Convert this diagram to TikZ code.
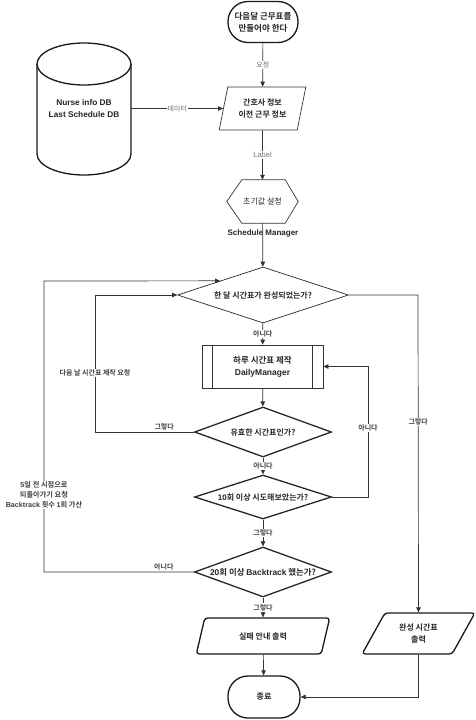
\documentclass[tikz,border=0pt]{standalone}
\usepackage{fontspec}
\setmainfont{Noto Sans CJK KR}[BoldFont={Noto Sans CJK KR Bold}]
\newfontfamily\lat{Liberation Sans}
\usetikzlibrary{shapes.geometric,arrows.meta}
\begin{document}
\begin{tikzpicture}[x=1pt,y=-1pt,
  ln/.style={draw=black!80, line width=0.7pt},
  arr/.style={ln, -{Triangle[length=5pt,width=4.5pt]}},
  txt/.style={font=\fontsize{8}{12}\selectfont\bfseries, align=center, text=black!85, inner sep=0pt},
  term/.style={rectangle, rounded corners=20pt, draw=black!90, line width=1.3pt, minimum width=70pt, minimum height=41pt, txt},
  io/.style={trapezium, trapezium stretches=true, draw=black!80, line width=0.7pt, txt},
  dec/.style={diamond, draw=black!85, inner sep=0pt},
  lbl/.style={font=\fontsize{7}{8}\selectfont, text=black!55, fill=white, inner sep=1pt},
  lbl2/.style={font=\fontsize{7}{9}\selectfont\bfseries, text=black!75, fill=white, inner sep=1pt, align=center}
]
\useasboundingbox (0,0) rectangle (476,720);

% start
\node[term, font=\fontsize{8.5}{12}\selectfont\bfseries] (start) at (263,22) {다음달 근무표를\\만들어야 한다};

% input data
\node[io, trapezium left angle=73, trapezium right angle=107, minimum width=87pt, minimum height=43pt] (in1) at (262.5,108.5) {간호사 정보\\이전 근무 정보};

% hexagon
\node[txt, font=\fontsize{8}{10}\selectfont, minimum width=71pt, minimum height=43pt] (hex) at (262.5,201.5) {초기값 설정};
\draw[ln] (hex.west) -- ([xshift=15pt]hex.north west) -- ([xshift=-13pt]hex.north east) -- (hex.east) -- ([xshift=-13pt]hex.south east) -- ([xshift=15pt]hex.south west) -- cycle;
\node[txt, font=\fontsize{8}{9}\selectfont\bfseries\lat] (sm) at (263,233) {Schedule Manager};

% database cylinder
\node[txt, font=\fontsize{8.3}{12}\selectfont\bfseries\lat, minimum width=94pt, minimum height=132pt] (db) at (84,109) {Nurse info DB\\Last Schedule DB};
\draw[draw=black!90, line width=1.3pt] (37,64) -- (37,154) arc[start angle=180, end angle=360, x radius=47pt, y radius=21pt] -- (131,64);
\draw[draw=black!90, line width=1.3pt] (84,64) ellipse [x radius=47pt, y radius=21pt];

% decisions
\node[dec, line width=0.7pt, minimum width=171pt, minimum height=56pt] (d1) at (263,295) {};
\node[txt] at (d1) {한 달 시간표가 완성되었는가?};

\node[rectangle, draw=black!80, line width=0.7pt, minimum width=121pt, minimum height=43pt, txt, font=\fontsize{8.5}{12}\selectfont\bfseries] (proc) at (262.5,366.5) {하루 시간표 제작\\{\lat DailyManager}};
\draw[ln] ([xshift=11pt]proc.north west) -- ([xshift=11pt]proc.south west);
\draw[ln] ([xshift=-11pt]proc.north east) -- ([xshift=-11pt]proc.south east);

\node[dec, line width=1.3pt, minimum width=137pt, minimum height=50pt] (d2) at (263,432) {};
\node[txt] at (d2) {유효한 시간표인가?};

\node[dec, line width=1.3pt, minimum width=137pt, minimum height=44pt] (d3) at (263,497) {};
\node[txt] at (d3) {{\lat 10}회 이상 시도해보았는가?};

\node[dec, line width=1.3pt, minimum width=137pt, minimum height=50pt] (d4) at (263,572) {};
\node[txt, font=\fontsize{8.4}{12}\selectfont\bfseries] at (d4) {{\lat 20}회 이상 {\lat Backtrack} 했는가?};

% outputs
\node[io, line width=1.3pt, draw=black!90, rounded corners=3pt, trapezium left angle=65, trapezium right angle=115, minimum width=134pt, minimum height=36pt] (out1) at (263,636) {실패 안내 출력};
\node[io, line width=1.3pt, draw=black!90, rounded corners=3pt, trapezium left angle=56, trapezium right angle=124, minimum width=113pt, minimum height=41pt] (out2) at (418.5,633.5) {완성 시간표\\출력};

% end
\node[term, minimum width=72pt, minimum height=42pt] (end) at (264,697) {종료};

% connectors
\draw[arr] (start) -- node[lbl]{요청} (in1);
\draw[arr] (in1) -- node[lbl, font=\fontsize{7.5}{8}\selectfont\lat]{Label} (hex);
\draw[arr] (hex) -- (d1);
\draw[arr] (db.east |- in1.west) -- node[lbl]{데이터} (in1.west);
\draw[arr] (d1) -- node[lbl2]{아니다} (proc);
\draw[arr] (proc) -- (d2);
\draw[arr] (d2) -- node[lbl2]{아니다} (d3);
\draw[arr] (d3) -- node[lbl2]{그렇다} (d4);
\draw[arr] (d4) -- node[lbl2]{그렇다} (out1);
\draw[arr] (out1) -- (end);

\coordinate (r0) at (418,295);
\draw[arr] (d1.east) -- (r0) -- node[lbl2, pos=0.4]{그렇다} (out2.north);
\draw[arr] (out2.south) |- (end.east);

\coordinate (l1) at (95,432);
\coordinate (l1t) at (95,295);
\draw[arr] (d2.west) -- node[lbl2, pos=0.3, above=1pt, fill=none]{그렇다} (l1) -- node[lbl2, pos=0.43]{다음 날 시간표 제작 요청} (l1t) -- (d1.west);

\coordinate (r1) at (368,497);
\coordinate (r2) at (368,366.5);
\draw[arr] (d3.east) -- (r1) -- node[lbl2, pos=0.53]{아니다} (r2) -- (proc.east);

\coordinate (o1) at (44,572);
\coordinate (o1t) at (44,281);
\draw[arr] (d4.west) -- node[lbl2, pos=0.2, above=1pt, fill=none]{아니다} (o1) -- node[lbl2, pos=0.265, font=\fontsize{7.2}{10}\selectfont\bfseries]{{\lat 5}일 전 시점으로\\되돌아가기 요청\\{\lat Backtrack} 횟수 {\lat 1}회 가산} (o1t) -- (d1.north west);
\end{tikzpicture}
\end{document}
